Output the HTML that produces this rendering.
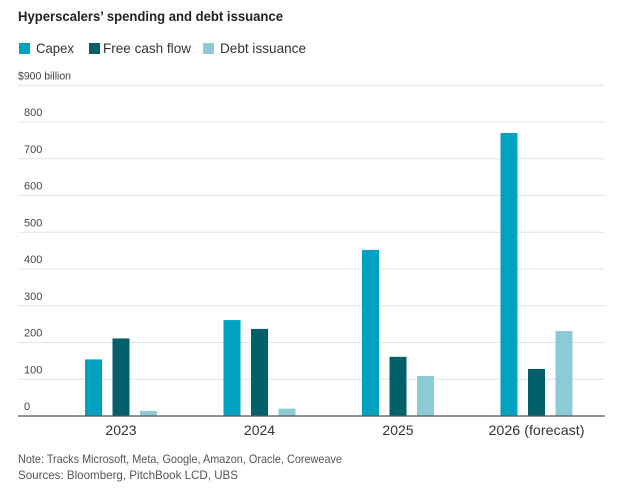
<!DOCTYPE html>
<html><head><meta charset="utf-8"><style>
body{margin:0;background:#fff;font-family:"Liberation Sans",sans-serif;}
svg{display:block}
</style></head><body>
<svg width="635" height="491" id="c">
<text x="18" y="21" font-size="14" font-weight="bold" fill="#222" textLength="265" lengthAdjust="spacingAndGlyphs">Hyperscalers’ spending and debt issuance</text>
<g>
<rect x="19" y="43" width="11" height="11" fill="#00a3bf"/>
<text x="36" y="53" font-size="14" fill="#333" textLength="38" lengthAdjust="spacingAndGlyphs">Capex</text>
<rect x="89" y="43" width="11" height="11" fill="#00616b"/>
<text x="103" y="53" font-size="14" fill="#333" textLength="88" lengthAdjust="spacingAndGlyphs">Free cash flow</text>
<rect x="203" y="43" width="11" height="11" fill="#8ccbd6"/>
<text x="220" y="53" font-size="14" fill="#333" textLength="86" lengthAdjust="spacingAndGlyphs">Debt issuance</text>
</g>
<g id="grid"></g>
<g id="bars"></g>
<g id="xl"></g>
<line x1="18" x2="605" y1="416" y2="416" stroke="#555" stroke-width="1.2"/>
<text x="18" y="463" font-size="12" fill="#555" textLength="324" lengthAdjust="spacingAndGlyphs">Note: Tracks Microsoft, Meta, Google, Amazon, Oracle, Coreweave</text>
<text x="18" y="479" font-size="12" fill="#555" textLength="220" lengthAdjust="spacingAndGlyphs">Sources: Bloomberg, PitchBook LCD, UBS</text>
</svg>
<script>
const categories=["2023","2024","2025","2026 (forecast)"];
const capex=[154,261,452,770];
const fcf=[211,237,161,128];
const debt=[14,20,109,231];
const ticks=[0,100,200,300,400,500,600,700,800,900];
const NS="http://www.w3.org/2000/svg";
const y=v=>416-v*0.3675;
const xc=i=>121+i*138.5;
function mk(t,a,p){const e=document.createElementNS(NS,t);for(const k in a)e.setAttribute(k,a[k]);document.getElementById(p).appendChild(e);return e;}
ticks.forEach(t=>{
 if(t>0){const l=mk('line',{x1:18,x2:605,y1:y(t),y2:y(t),stroke:'#e4e4e4','stroke-width':1},'grid');
 
 }
 const tx=mk('text',{x:t==900?18:24,y:y(t)-6,'font-size':11,fill:'#444'},'grid');
 tx.textContent=t==900?'$900 billion':String(t);
 if(t==900){tx.setAttribute('textLength','53');tx.setAttribute('lengthAdjust','spacingAndGlyphs');}
 
 
});
const series=[[capex,'#00a3bf','capex'],[fcf,'#00616b','fcf'],[debt,'#8ccbd6','debt']];
categories.forEach((c,i)=>{
 series.forEach(([arr,col,n],j)=>{
  const r=mk('rect',{x:xc(i)-36+j*27.5,y:y(arr[i]),width:17,height:416-y(arr[i]),fill:col},'bars');
  
  
 });
 const t=mk('text',{x:xc(i),y:435,'font-size':14,fill:'#333','text-anchor':'middle'},'xl');
 t.textContent=c;
 if(i==3){t.setAttribute('textLength','96');t.setAttribute('lengthAdjust','spacingAndGlyphs');}
 
 
});
</script>
</body></html>
